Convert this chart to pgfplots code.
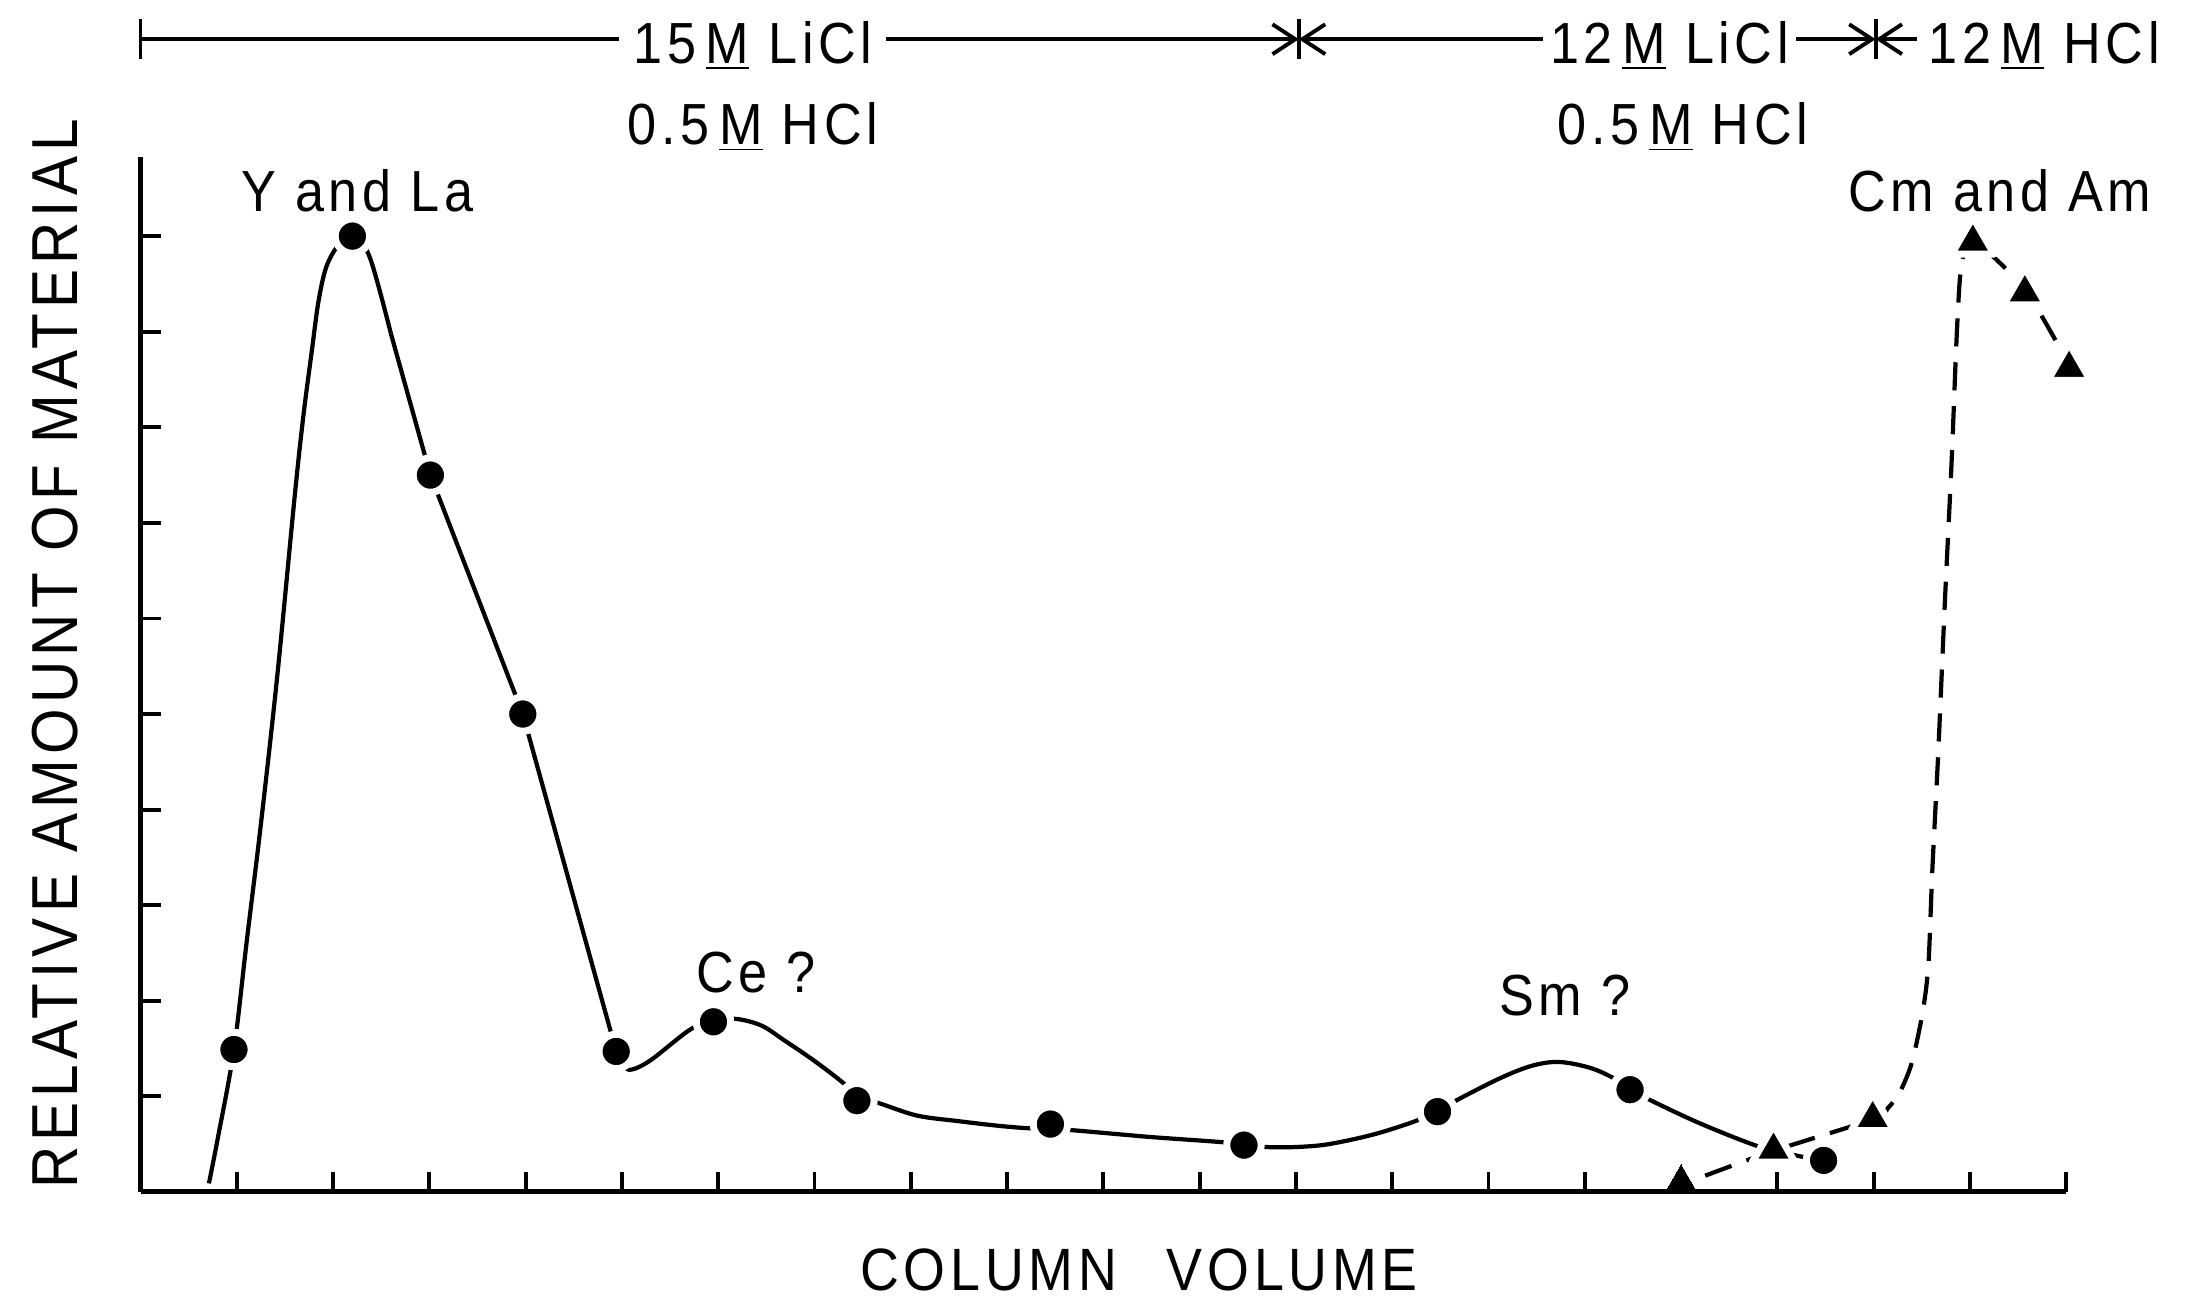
\documentclass[border=0pt]{standalone}
\usepackage{fontspec}
\usepackage{pgfplots}
\pgfplotsset{compat=1.18}
\usetikzlibrary{arrows.meta}
\newfontfamily\lettering[FakeStretch=0.9,LetterSpace=8]{Liberation Sans}
\tikzset{
  lab/.style={font=\lettering\fontsize{16.5}{18}\selectfont, inner sep=0pt, anchor=base, text=black},
  barb/.style={-{Straight Barb[length=6.5pt,width=8.5pt,line width=1.1pt]}},
}
\begin{document}
\begin{tikzpicture}
\path[use as bounding box] (-1.4056,-1.068) rectangle (20.634,11.919);
\begin{axis}[
  at={(0,0)}, anchor=south west,
  x=0.9628cm, y=0.9558cm,
  xmin=0, xmax=20, ymin=0, ymax=10.83,
  axis x line=bottom, axis y line=left,
  axis line style={-, line width=1.4pt, black},
  xtick={1,...,20}, ytick={1,...,10},
  xticklabels={}, yticklabels={},
  tick align=inside, major tick length=0.2cm,
  tick style={line width=1.1pt, black},
  clip=false,
]
% solid curve
\addplot[black, line width=1.2pt, smooth, tension=0.55] coordinates {
(0.71,0.09) (0.8,0.55) (0.97,1.49) (1.1,2.6) (1.25,3.85) (1.42,5.4) (1.60,7.27)
(1.69,8.11) (1.78,8.81) (1.85,9.33) (1.93,9.68) (2.05,9.9) (2.2,10.02) (2.38,9.78) (2.6,8.98)};
\addplot[black, line width=1.2pt, sharp plot] coordinates {
(2.6,8.98) (3.01,7.5) (3.97,5.0) (4.94,1.47)};
\addplot[black, line width=1.2pt, smooth, tension=0.55] coordinates {
(4.94,1.47) (5.02,1.32) (5.1,1.28) (5.3,1.38) (5.71,1.70) (5.95,1.79) (6.19,1.81)
(6.45,1.74) (6.68,1.59) (7.0,1.37) (7.32,1.12) (7.44,0.96)};
\addplot[black, line width=1.2pt, smooth, tension=0.55] coordinates {
(7.44,0.955) (7.63,0.94) (8.06,0.80) (8.5,0.74) (8.93,0.69) (9.24,0.665) (9.45,0.66)
(9.69,0.645) (10.2,0.6) (10.55,0.57) (11.24,0.52) (11.46,0.49) (11.68,0.47) (12.0,0.47)
(12.34,0.50) (12.8,0.6) (13.21,0.73) (13.47,0.84) (13.67,0.96) (14.12,1.19) (14.45,1.32)
(14.73,1.36) (15.05,1.30) (15.3,1.19) (15.47,1.07) (15.64,0.98) (16.19,0.72) (16.82,0.47)
(17.2,0.38) (17.48,0.33)};
% dashed curve
\addplot[black, line width=1.2pt, smooth, tension=0.5, dash pattern=on 8pt off 4.5pt] coordinates {
(16.25,0.17) (16.96,0.43) (17.99,0.76) (18.15,0.88) (18.27,1.04) (18.38,1.3) (18.45,1.58)
(18.52,1.95) (18.57,2.4) (18.61,3.38) (18.67,4.58) (18.74,6.18) (18.81,7.65) (18.86,8.9)
(18.9,9.6) (18.96,9.9) (19.03,9.97) (19.57,9.44) (20.03,8.65)};
% dots
\addplot[only marks, mark=*, mark size=4.9pt,
  mark options={fill=black, draw=white, line width=2pt}] coordinates {
(0.97,1.49) (2.2,10.0) (3.01,7.5) (3.97,5.0) (4.94,1.47) (5.95,1.78) (7.44,0.955)
(9.45,0.71) (11.46,0.49) (13.47,0.84) (15.47,1.07) (17.48,0.33)};
% triangles
\addplot[only marks, mark=triangle*, mark size=7pt,
  mark options={fill=black, draw=white, line width=2pt, line join=round}] coordinates {
(16.96,0.44) (17.99,0.77) (19.03,9.94) (19.57,9.41) (20.03,8.62)};
\addplot[only marks, mark=triangle*, mark size=5pt,
  mark options={fill=black, draw=black, line width=0pt}] coordinates {
(16.0,0.1)};

% top annotation
\draw[line width=1.1pt] (axis cs:0,12.27) -- (axis cs:0,11.85);
\draw[line width=1.1pt, barb] (axis cs:0,12.06) -- (axis cs:12.03,12.06);
\node[lab, fill=white, inner xsep=4pt, inner ysep=1pt] at (axis cs:6.36,11.81) {15\,\underline{M} LiCl};
\draw[line width=1.1pt] (axis cs:12.03,12.27) -- (axis cs:12.03,11.85);
\draw[line width=1.1pt, {Straight Barb[length=6.5pt,width=8.5pt,line width=1.1pt]}-{Straight Barb[length=6.5pt,width=8.5pt,line width=1.1pt]}] (axis cs:12.03,12.06) -- (axis cs:18.02,12.06);
\node[lab, fill=white, inner xsep=2pt, inner ysep=1pt] at (axis cs:15.88,11.81) {12\,\underline{M} LiCl};
\draw[line width=1.1pt] (axis cs:18.02,12.27) -- (axis cs:18.02,11.85);
\draw[line width=1.1pt, barb] (axis cs:18.45,12.06) -- (axis cs:18.02,12.06);
\node[lab] at (axis cs:19.77,11.81) {12\,\underline{M} HCl};
\node[lab] at (axis cs:6.36,10.96) {0.5\,\underline{M} HCl};
\node[lab] at (axis cs:16.02,10.96) {0.5\,\underline{M} HCl};

% peak labels
\node[lab] at (axis cs:2.25,10.26) {Y and La};
\node[lab] at (axis cs:19.31,10.26) {Cm and Am};
\node[lab] at (axis cs:6.39,2.09) {Ce ?};
\node[lab] at (axis cs:14.79,1.85) {Sm ?};

% axis titles
\node[lab, font=\lettering\fontsize{17}{19}\selectfont] at (axis cs:10.37,-1.03) {COLUMN\hspace{0.3cm} VOLUME};
\node[lab, font=\lettering\fontsize{18.5}{20}\selectfont, rotate=90] at (axis cs:-0.657,5.63) {RELATIVE AMOUNT OF MATERIAL};
\end{axis}
\end{tikzpicture}
\end{document}
